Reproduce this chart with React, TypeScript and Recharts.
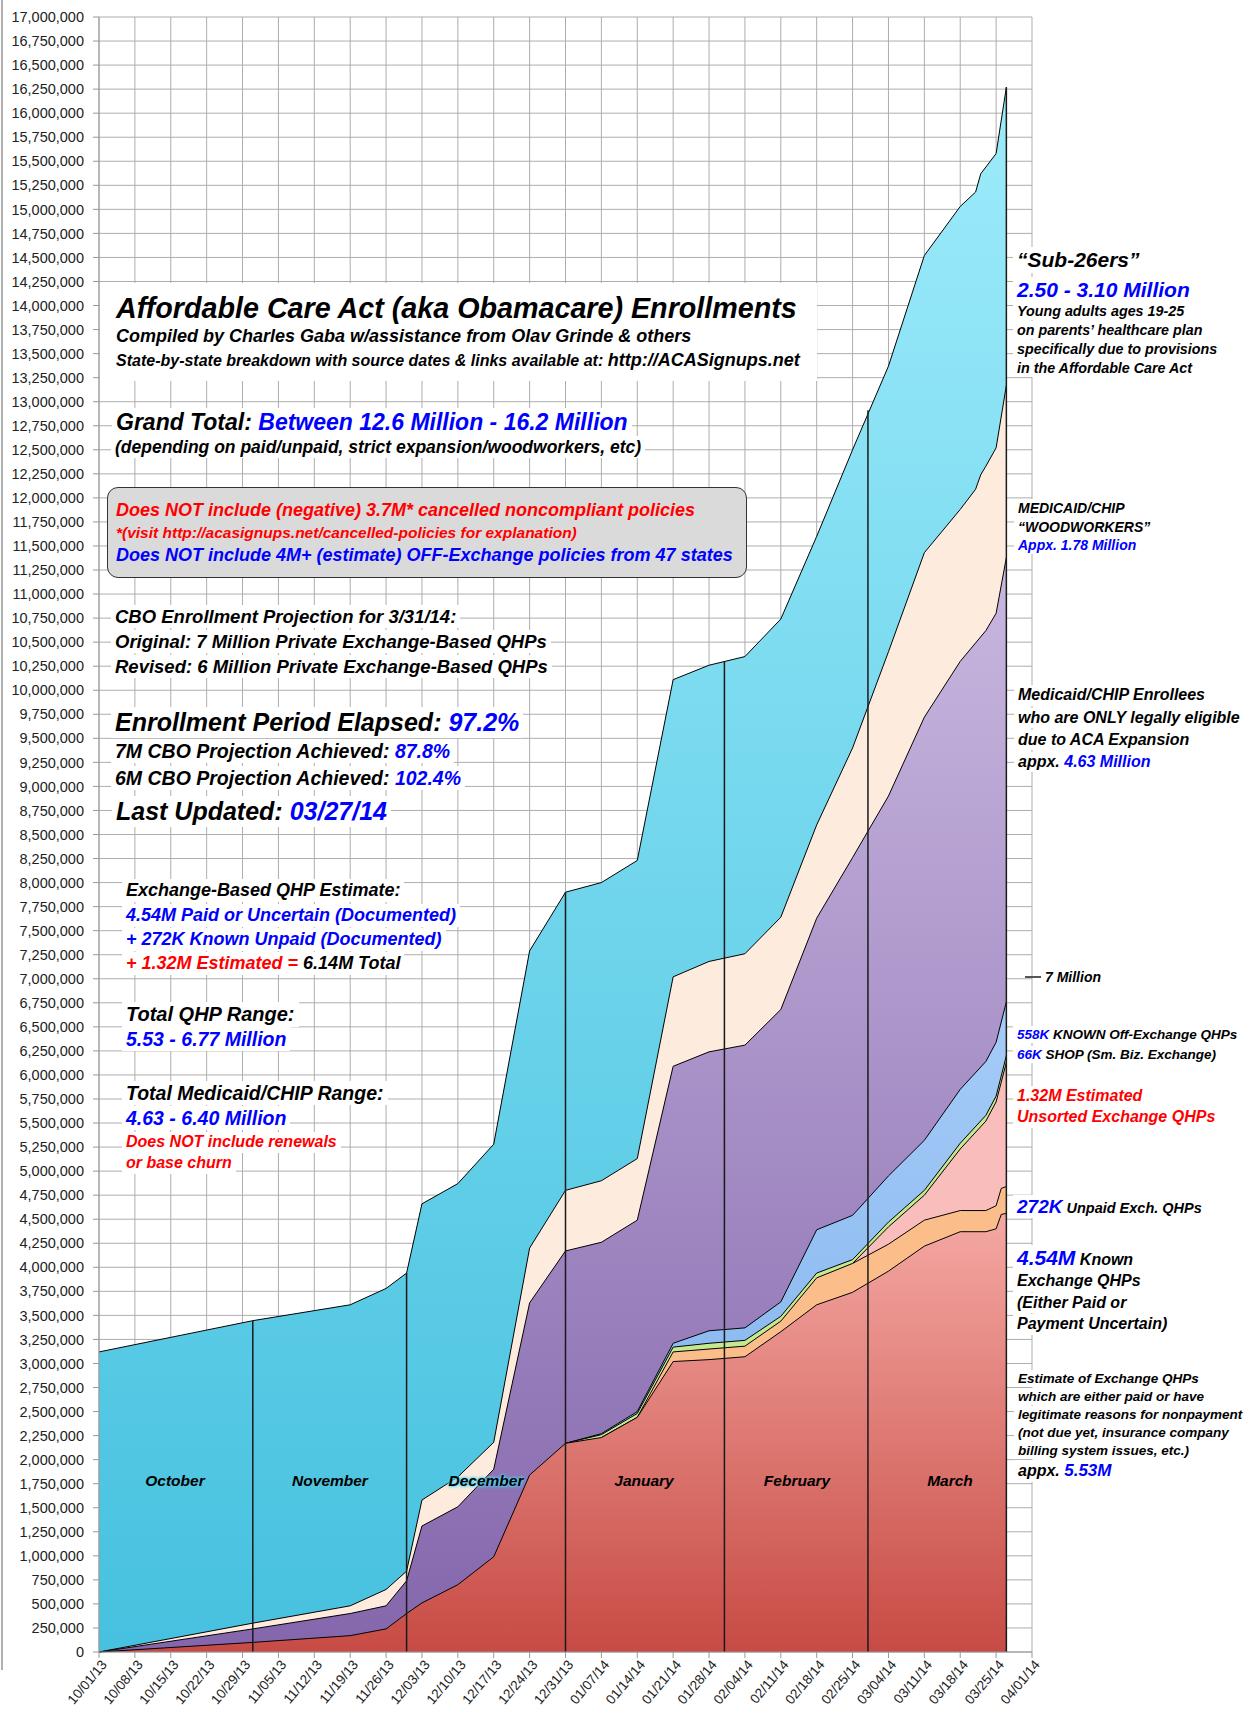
import React from 'react';
import { AreaChart, Area, XAxis, YAxis, CartesianGrid, ReferenceLine } from 'recharts';

// x values: days since 10/01/2013
const dayIndex = [0, 30, 49, 56, 60, 63, 70, 77, 84, 91, 98, 105, 112, 119, 126, 133, 140, 147, 154, 161, 168, 171, 172, 173, 175, 176, 177];

// Cumulative top edge of each band, in millions (null = no vertex of that band on that day)
const sub26ersTop = [3.12, 3.445, 3.61, 3.78, 3.94, 4.66, 4.87, 5.28, 7.29, 7.9, 8.0, 8.23, 10.11, 10.26, 10.35, 10.74, 11.6, 12.5, 13.37, 14.52, 15.03, 15.18, 15.37, null, 15.58, null, 16.27];
const woodworkersTop = [0, 0.3, 0.48, 0.65, 0.84, 1.58, 1.82, 2.18, 4.2, 4.8, 4.9, 5.13, 7.02, 7.18, 7.26, 7.64, 8.6, 9.4, 10.4, 11.43, 11.88, 12.09, 12.24, 12.33, 12.52, null, 13.17];
const medicaidTop = [0, 0.24, 0.4, 0.48, 0.74, 1.31, 1.51, 1.9, 3.63, 4.17, 4.26, 4.49, 6.09, 6.24, 6.31, 6.68, 7.63, 8.26, 8.9, 9.72, 10.3, null, null, 10.62, 10.8, null, 11.38];
const offExchangeTop = [null, null, null, null, null, null, null, null, null, 2.17, 2.27, 2.5, 3.21, 3.34, 3.37, 3.64, 4.39, 4.54, 4.95, 5.32, 5.85, null, null, 6.14, 6.34, null, 6.76];
const shopTop = [null, null, null, null, null, null, null, null, null, 2.17, 2.26, 2.48, 3.17, 3.21, 3.24, 3.49, 3.94, 4.08, 4.47, 4.8, 5.29, null, null, 5.58, 5.78, null, 6.2];
const estimatedTop = [null, null, null, null, null, null, null, null, null, null, null, null, null, null, null, null, null, 4.04, 4.42, 4.75, 5.23, null, null, 5.52, 5.72, null, 6.13];
const unpaidTop = [null, null, null, null, null, null, null, null, null, null, 2.23, 2.44, 3.12, 3.15, 3.18, 3.44, 3.89, 4.04, 4.24, 4.49, 4.59, null, null, 4.59, 4.64, 4.82, 4.84];
const knownPaidTop = [0, 0.1, 0.17, 0.24, 0.4, 0.51, 0.7, 0.99, 1.84, 2.17, 2.23, 2.44, 3.02, 3.04, 3.07, 3.33, 3.61, 3.74, 3.96, 4.22, 4.37, null, null, 4.37, 4.4, 4.55, 4.56];

// month-end marker lines (day, total at that day in millions)
const markerDays = [30, 60, 91, 122, 150, 177];
const markerTotals = [3.445, 3.94, 7.9, 10.3, 12.91, 16.27];

const xTickDays = [0, 7, 14, 21, 28, 35, 42, 49, 56, 63, 70, 77, 84, 91, 98, 105, 112, 119, 126, 133, 140, 147, 154, 161, 168, 175, 182];
const xTickLabels = ['10/01/13', '10/08/13', '10/15/13', '10/22/13', '10/29/13', '11/05/13', '11/12/13', '11/19/13', '11/26/13', '12/03/13', '12/10/13', '12/17/13', '12/24/13', '12/31/13', '01/07/14', '01/14/14', '01/21/14', '01/28/14', '02/04/14', '02/11/14', '02/18/14', '02/25/14', '03/04/14', '03/11/14', '03/18/14', '03/25/14', '04/01/14'];
const yTicks = Array.from({ length: 69 }, (_, i) => i * 0.25);

const monthNames = ['October', 'November', 'December', 'January', 'February', 'March'];
const monthCenters = [175, 330, 486, 644, 797, 950];

const data = dayIndex.map((d, i) => ({
  day: d,
  sub26: sub26ersTop[i],
  wood: woodworkersTop[i],
  medicaid: medicaidTop[i],
  off: offExchangeTop[i],
  shop: shopTop[i],
  est: estimatedTop[i],
  unpaid: unpaidTop[i],
  known: knownPaidTop[i],
}));

const FONT = "'Liberation Sans', Arial, Helvetica, sans-serif";
const BLUE = '#0000ff';
const RED = '#ff0000';

const layers = [
  { key: 'sub26', top: '#9DEBFA', bottom: '#46C1DF' },
  { key: 'wood', top: '#FDEBDD', bottom: '#FDEBDD' },
  { key: 'medicaid', top: '#C9B8E0', bottom: '#8466AC' },
  { key: 'off', top: '#A6CCF8', bottom: '#78ACEA' },
  { key: 'shop', top: '#C4E98E', bottom: '#C4E98E' },
  { key: 'est', top: '#F9BEBB', bottom: '#F9BEBB' },
  { key: 'unpaid', top: '#FBBE8A', bottom: '#FBBE8A' },
  { key: 'known', top: '#F5A8A3', bottom: '#C74B44' },
];

const XTick = (props: any) => {
  const { x, y, payload } = props;
  const i = xTickDays.indexOf(payload.value);
  const ax = x + 5;
  const ay = y + 2;
  return (
    <text x={ax} y={ay} transform={`rotate(-50 ${ax} ${ay})`} textAnchor="end" dy="0.35em" fontFamily={FONT} fontSize={13.5} fill="#222">
      {xTickLabels[i]}
    </text>
  );
};

type TProps = { x: number; y: number; size: number; color?: string; bg?: boolean; children: React.ReactNode; style?: React.CSSProperties };
const T = ({ x, y, size, color = '#000', bg = true, children, style }: TProps) => (
  <div
    style={{
      position: 'absolute',
      left: x - (bg ? 4 : 0),
      top: y - 0.92 * size - (bg ? 1 : 0),
      fontFamily: FONT,
      fontWeight: 700,
      fontStyle: 'italic',
      fontSize: size,
      lineHeight: 1.15,
      color,
      whiteSpace: 'nowrap',
      background: bg ? '#fff' : 'transparent',
      padding: bg ? '1px 4px' : 0,
      ...style,
    }}
  >
    {children}
  </div>
);

const S = ({ c, s, children }: { c?: string; s?: number; children: React.ReactNode }) => (
  <span style={{ color: c, fontSize: s }}>{children}</span>
);

export default function App() {
  return (
    <div style={{ position: 'relative', width: 1250, height: 1720, background: '#fff', overflow: 'hidden' }}>
      <style>{'body{margin:0}'}</style>
      <div style={{ position: 'absolute', left: 1, top: 0, width: 1.5, height: 1670, background: '#b0b0b0' }} />
      <AreaChart width={1250} height={1720} data={data} margin={{ top: 17, right: 218, left: 9, bottom: 0 }}>
        <defs>
          {layers.map((l) => (
            <linearGradient key={l.key} id={`g-${l.key}`} x1="0" y1="0" x2="0" y2="1">
              <stop offset="0%" stopColor={l.top} />
              <stop offset="100%" stopColor={l.bottom} />
            </linearGradient>
          ))}
        </defs>
        <CartesianGrid stroke="#adadad" strokeWidth={1} />
        <XAxis
          type="number"
          dataKey="day"
          domain={[0, 182]}
          ticks={xTickDays}
          interval={0}
          height={68}
          tick={<XTick />}
          tickSize={6}
          axisLine={{ stroke: '#999' }}
          tickLine={{ stroke: '#999' }}
        />
        <YAxis
          type="number"
          domain={[0, 17]}
          ticks={yTicks}
          interval={0}
          width={90}
          tickSize={6}
          tickMargin={9}
          tickFormatter={(v: number) => Math.round(v * 1e6).toLocaleString('en-US')}
          tick={{ fontFamily: FONT, fontSize: 14.5, fill: '#222' }}
          axisLine={{ stroke: '#999' }}
          tickLine={{ stroke: '#999' }}
        />
        {layers.map((l) => (
          <Area
            key={l.key}
            type="linear"
            dataKey={l.key}
            stroke="#000"
            strokeWidth={1}
            fill={`url(#g-${l.key})`}
            fillOpacity={1}
            connectNulls
            dot={false}
            activeDot={false}
            isAnimationActive={false}
          />
        ))}
        {markerDays.map((d, i) => (
          <ReferenceLine
            key={d}
            segment={[{ x: d, y: 0 }, { x: d, y: markerTotals[i] }]}
            stroke="#1a1a1a"
            strokeWidth={1.5}
            ifOverflow="visible"
          />
        ))}
      </AreaChart>

      {/* Month labels */}
      {monthNames.map((m, i) => (
        <div
          key={m}
          style={{
            position: 'absolute',
            left: monthCenters[i] - 100,
            width: 200,
            top: 1486 - 0.92 * 15.5,
            textAlign: 'center',
            fontFamily: FONT,
            fontWeight: 700,
            fontStyle: 'italic',
            fontSize: 15.5,
            lineHeight: 1.15,
            color: '#000',
            textShadow: m === 'December' ? '0 0 2px #4fd4f4, 0 0 3px #4fd4f4, 0 0 4px #4fd4f4' : undefined,
          }}
        >
          {m}
        </div>
      ))}

      {/* Title block */}
      <div style={{ position: 'absolute', left: 100, top: 283, width: 717, height: 98, background: '#fff' }} />
      <T x={116} y={318} size={28.7} bg={false}>Affordable Care Act (aka Obamacare) Enrollments</T>
      <T x={116} y={343} size={18} bg={false}>Compiled by Charles Gaba w/assistance from Olav Grinde &amp; others</T>
      <T x={116} y={367} size={18} bg={false}>
        <S s={16}>State-by-state breakdown with source dates &amp; links available at: </S>http://ACASignups.net
      </T>

      <T x={116} y={430} size={23}>
        Grand Total: <S c={BLUE}>Between 12.6 Million - 16.2 Million</S>
      </T>
      <T x={115} y={453} size={17.5}>(depending on paid/unpaid, strict expansion/woodworkers, etc)</T>

      {/* Gray box */}
      <div
        style={{
          position: 'absolute',
          left: 107,
          top: 487,
          width: 638,
          height: 89,
          background: '#dadada',
          border: '1.5px solid #333',
          borderRadius: 11,
        }}
      />
      <T x={116} y={517} size={18} color={RED} bg={false}>Does NOT include (negative) 3.7M* cancelled noncompliant policies</T>
      <T x={116} y={538} size={15.5} color={RED} bg={false}>*(visit http://acasignups.net/cancelled-policies for explanation)</T>
      <T x={116} y={562} size={18} color={BLUE} bg={false}>Does NOT include 4M+ (estimate) OFF-Exchange policies from 47 states</T>

      <T x={115} y={623} size={18.5}>CBO Enrollment Projection for 3/31/14:</T>
      <T x={115} y={648} size={18.5}>Original: 7 Million Private Exchange-Based QHPs</T>
      <T x={115} y={673} size={18.5}>Revised: 6 Million Private Exchange-Based QHPs</T>

      <T x={115} y={731} size={25}>
        Enrollment Period Elapsed: <S c={BLUE}>97.2%</S>
      </T>
      <T x={115} y={758} size={19.5}>
        7M CBO Projection Achieved: <S c={BLUE}>87.8%</S>
      </T>
      <T x={115} y={785} size={19.5}>
        6M CBO Projection Achieved: <S c={BLUE}>102.4%</S>
      </T>
      <T x={116} y={820} size={25}>
        Last Updated: <S c={BLUE}>03/27/14</S>
      </T>

      <T x={126} y={897} size={18}>Exchange-Based QHP Estimate:</T>
      <T x={126} y={922} size={18} color={BLUE}>4.54M Paid or Uncertain (Documented)</T>
      <T x={126} y={946} size={18} color={BLUE}>+ 272K Known Unpaid (Documented)</T>
      <T x={126} y={970} size={18}>
        <S c={RED}>+ 1.32M Estimated =</S> 6.14M Total
      </T>

      <T x={126} y={1021} size={20}>Total QHP Range:</T>
      <T x={126} y={1046} size={19.5} color={BLUE}>5.53 - 6.77 Million</T>
      <T x={126} y={1100} size={19.5}>Total Medicaid/CHIP Range:</T>
      <T x={126} y={1125} size={19.5} color={BLUE}>4.63 - 6.40 Million</T>
      <T x={126} y={1148} size={16} color={RED}>Does NOT include renewals</T>
      <T x={126} y={1169} size={16} color={RED}>or base churn</T>

      {/* Right side annotations */}
      <T x={1017} y={267} size={21}>“Sub-26ers”</T>
      <T x={1017} y={297} size={21} color={BLUE}>2.50 - 3.10 Million</T>
      <T x={1017} y={316} size={14.3}>Young adults ages 19-25</T>
      <T x={1017} y={335} size={14.3}>on parents’ healthcare plan</T>
      <T x={1017} y={354} size={14.3}>specifically due to provisions</T>
      <T x={1017} y={373} size={14.3}>in the Affordable Care Act</T>

      <T x={1018} y={513} size={14}>MEDICAID/CHIP</T>
      <T x={1018} y={531.5} size={14}>“WOODWORKERS”</T>
      <T x={1018} y={550} size={14} color={BLUE}>Appx. 1.78 Million</T>

      <T x={1018} y={701} size={16}>Medicaid/CHIP Enrollees</T>
      <T x={1018} y={723.5} size={16}>who are ONLY legally eligible</T>
      <T x={1018} y={745.5} size={16}>due to ACA Expansion</T>
      <T x={1018} y={767.5} size={16}>
        appx. <S c={BLUE}>4.63 Million</S>
      </T>

      <div style={{ position: 'absolute', left: 1025, top: 976, width: 16, height: 1.5, background: '#555' }} />
      <T x={1045} y={982} size={14}>7 Million</T>

      <T x={1017} y={1039} size={13.5}>
        <S c={BLUE}>558K</S> KNOWN Off-Exchange QHPs
      </T>
      <T x={1017} y={1059} size={13.5}>
        <S c={BLUE}>66K</S> SHOP (Sm. Biz. Exchange)
      </T>
      <T x={1017} y={1102} size={16} color={RED}>1.32M Estimated</T>
      <T x={1017} y={1123} size={16} color={RED}>Unsorted Exchange QHPs</T>

      <T x={1017} y={1213} size={19}>
        <S c={BLUE}>272K</S>
        <S s={14.5}> Unpaid Exch. QHPs</S>
      </T>
      <T x={1017} y={1265} size={21}>
        <S c={BLUE}>4.54M</S>
        <S s={16}> Known</S>
      </T>
      <T x={1017} y={1287} size={16}>Exchange QHPs</T>
      <T x={1017} y={1308.5} size={16}>(Either Paid or</T>
      <T x={1017} y={1330} size={16}>Payment Uncertain)</T>

      <T x={1018} y={1383} size={13.5}>Estimate of Exchange QHPs</T>
      <T x={1018} y={1401} size={13.5}>which are either paid or have</T>
      <T x={1018} y={1419} size={13.5}>legitimate reasons for nonpayment</T>
      <T x={1018} y={1437} size={13.5}>(not due yet, insurance company</T>
      <T x={1018} y={1455} size={13.5}>billing system issues, etc.)</T>
      <T x={1018} y={1477} size={17}>
        <S s={16}>appx. </S>
        <S c={BLUE}>5.53M</S>
      </T>
    </div>
  );
}
